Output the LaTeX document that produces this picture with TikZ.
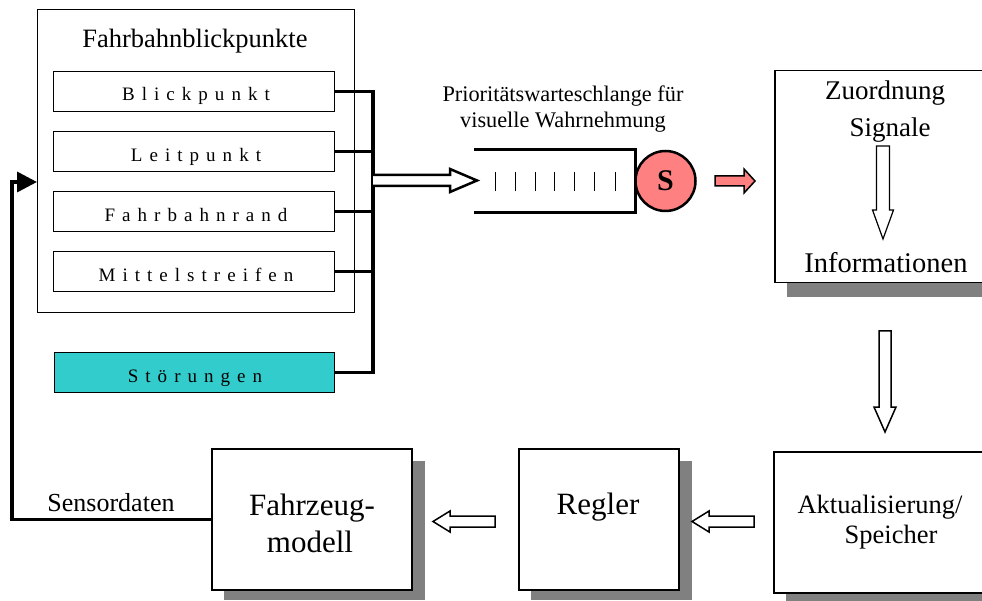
\documentclass[tikz,border=0pt]{standalone}
\usepackage{fontspec}
\setmainfont{Liberation Serif}
\newfontfamily\spacedfont[LetterSpace=37]{Liberation Serif}
\usetikzlibrary{arrows.meta,calc}

\definecolor{qred}{RGB}{255,128,128}
\definecolor{stoercyan}{RGB}{51,204,204}
\definecolor{shadowgray}{RGB}{128,128,128}

\newcommand\fsz[1]{\fontsize{#1}{#1}\selectfont}

\begin{document}
\begin{tikzpicture}[x=1pt,y=-1pt,
  frame/.style={draw=black, line width=1.2pt, fill=white, inner sep=0pt, anchor=north west},
  item/.style={frame, minimum width=281pt, minimum height=40pt},
  block/.style={frame, line width=1.5pt},
  shade/.style={fill=shadowgray, draw=none},
  bus/.style={line width=3.5pt},
  txt/.style={inner sep=0pt, anchor=base},
  itemtxt/.style={txt, font=\spacedfont\fsz{19}},
  hollow/.style={draw=black, line width=1.5pt, fill=white, line join=miter}]

\clip (0,0) rectangle (982,601);
\fill[white] (0,0) rectangle (982,601);

% ---------- view points of the road ----------
\node[frame, minimum width=317pt, minimum height=303pt] (outer) at (37,9) {};
\node[txt, font=\fsz{26.5}] (title) at (195,48) {Fahrbahnblickpunkte};

\node[item] (b1) at (53,71) {};
\node[item] (b2) at (53,131) {};
\node[item] (b3) at (53,191) {};
\node[item] (b4) at (53,251) {};
\node[itemtxt] (t1) at (196,101) {Blickpunkt};
\node[itemtxt] (t2) at (196,162) {Leitpunkt};
\node[itemtxt] (t3) at (196,222) {Fahrbahnrand};
\node[itemtxt] (t4) at (196,282) {Mittelstreifen};

\node[item, fill=stoercyan, minimum width=280pt] (st) at (54,352) {};
\node[itemtxt] (tst) at (195,382) {Störungen};

% ---------- collecting bus ----------
\coordinate (busx) at (373,0);
\draw[bus] (b1.east) -- (b1.east -| busx) -- (st.east -| busx) -- (st.east);
\draw[bus] (b2.east) -- (b2.east -| busx);
\draw[bus] (b3.east) -- (b3.east -| busx);
\draw[bus] (b4.east) -- (b4.east -| busx);

% ---------- priority queue ----------
\node[txt, font=\fsz{22.3}] (ql1) at (563,102) {Prioritätswarteschlange für};
\node[txt, font=\fsz{22.3}] (ql2) at (563,128) {visuelle Wahrnehmung};

\coordinate (qin) at (373,180.5);
\draw[hollow, line width=2.5pt] (qin) ++(0,-5.5) -- ++(77,0) -- ++(0,-6) -- ++(27,11.5)
  -- ++(-27,11.5) -- ++(0,-6) -- ++(-77,0);

\node[inner sep=0pt, minimum width=161pt, minimum height=62pt, anchor=north west] (queue) at (474,150) {};
\draw[line width=3pt] (queue.north west) -- (queue.north east) -- (queue.south east) -- (queue.south west);
\foreach \x in {495,515,535,554,574,594,615}
  \draw[line width=1pt] (\x,172) -- (\x,191);

\node[circle, draw=black, fill=qred, line width=2.5pt, minimum size=60pt, inner sep=0pt,
      font=\bfseries\fsz{30}] (server) at (665.5,181) {S};

\coordinate (rout) at (715,181);
\draw[draw=black, fill=qred, line width=1.5pt, line join=miter]
  (rout) ++(0,-5) -- ++(29,0) -- ++(0,-7) -- ++(11,12) -- ++(-11,12) -- ++(0,-7) -- ++(-29,0) -- cycle;

% ---------- assignment block ----------
\fill[shade] (787,83) rectangle (1000,297);
\node[block, minimum width=240pt, minimum height=212pt] (zu) at (774,70) {};
\node[txt, font=\fsz{27}] (zu1) at (885,100) {Zuordnung};
\node[txt, font=\fsz{27}] (zu2) at (890,137) {Signale};
\node[txt, font=\fsz{28.5}] (zu3) at (886,273) {Informationen};
\draw[hollow, line width=1.2pt] (876.5,146) -- (889.5,146) -- (889.5,210) -- (893.5,210)
  -- (883,239) -- (872.5,210) -- (876.5,210) -- cycle;

\draw[hollow] (879,331) -- (891,331) -- (891,407) -- (896,407) -- (885,432)
  -- (874,407) -- (879,407) -- cycle;

% ---------- update / memory ----------
\fill[shade] (786,464) rectangle (1000,610);
\node[block, minimum width=240pt, minimum height=141pt] (ak) at (773,451) {};
\node[txt, font=\fsz{26.5}] (ak1) at (880,513) {Aktualisierung/};
\node[txt, font=\fsz{26.5}] (ak2) at (891,543) {Speicher};

% ---------- controller ----------
\fill[shade] (531,461) rectangle (692,600);
\node[block, minimum width=160pt, minimum height=141pt] (re) at (518,448) {};
\node[txt, font=\fsz{31}] (re1) at (598,514) {Regler};

% ---------- vehicle model ----------
\fill[shade] (224,461) rectangle (425,600);
\node[block, minimum width=200pt, minimum height=141pt] (fz) at (211,448) {};
\node[txt, font=\fsz{31}] (fz1) at (312,515) {Fahrzeug-};
\node[txt, font=\fsz{31}] (fz2) at (310,552) {modell};

% ---------- block arrows between the lower blocks ----------
\draw[hollow] (754,516) -- (709,516) -- (709,511) -- (692,521.5) -- (709,532) -- (709,527)
  -- (754,527) -- cycle;
\draw[hollow] (495,516) -- (450,516) -- (450,511) -- (433,521.5) -- (450,532) -- (450,527)
  -- (495,527) -- cycle;

% ---------- sensor feedback loop ----------
\coordinate (loopcorner) at (12,182);
\node[txt, font=\fsz{26}] (sens) at (111,511) {Sensordaten};
\draw[bus, -{Triangle[length=20pt,width=20pt]}] (fz.west) -| (loopcorner) -- (outer.west |- loopcorner);

\end{tikzpicture}
\end{document}
